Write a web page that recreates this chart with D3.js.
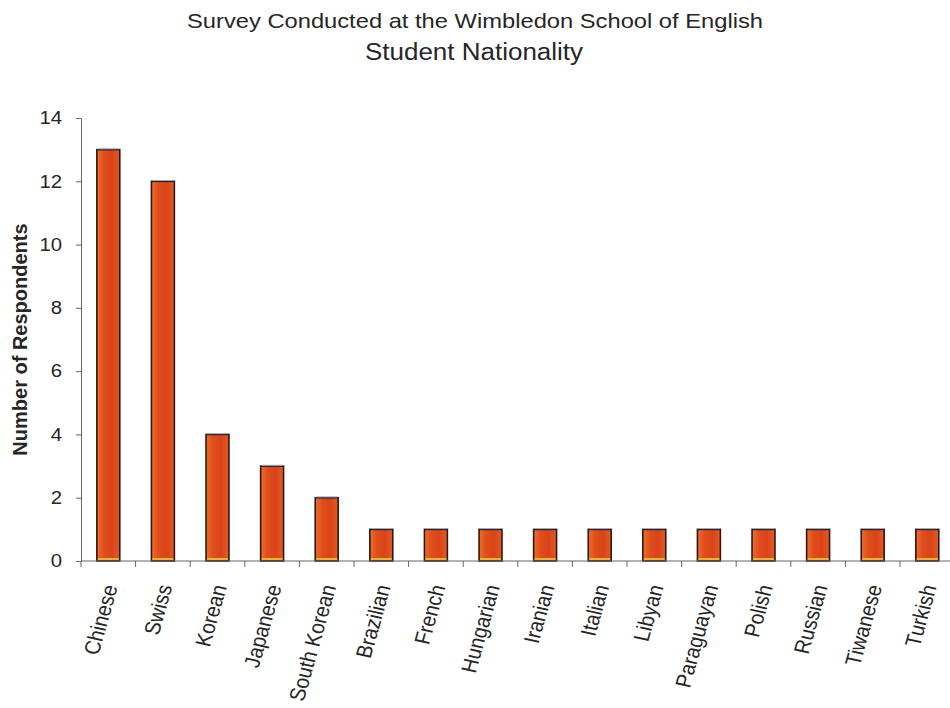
<!DOCTYPE html>
<html>
<head>
<meta charset="utf-8">
<script src="https://cdn.jsdelivr.net/npm/d3@7"></script>
<style>
  body { margin: 0; background: #ffffff; }
  svg { display: block; font-family: "Liberation Sans", Arial, sans-serif; }
</style>
</head>
<body>
<svg id="chart" width="950" height="708"></svg>
<script>
// Survey responses by student nationality
const categories = ["Chinese", "Swiss", "Korean", "Japanese", "South Korean", "Brazilian", "French",
  "Hungarian", "Iranian", "Italian", "Libyan", "Paraguayan", "Polish", "Russian", "Tiwanese", "Turkish"];
const respondents = [13, 12, 4, 3, 2, 1, 1, 1, 1, 1, 1, 1, 1, 1, 1, 1];
const yTicks = [0, 2, 4, 6, 8, 10, 12, 14];

const svg = d3.select("#chart");
const plotLeft = 81, plotRight = 954.6, plotTop = 118, plotBottom = 561;
const SX = 1.13; // type is set slightly wide

const x = d3.scaleBand().domain(categories).range([plotLeft, plotRight]).paddingInner(0.58).paddingOuter(0.29);
const xTickBand = d3.scaleBand().domain(categories).range([plotLeft, plotRight]);
const y = d3.scaleLinear().domain([0, 14]).range([plotBottom, plotTop]);

// Bar fill: orange edges, deeper red core
const defs = svg.append("defs");
const grad = defs.append("linearGradient").attr("id", "barFill").attr("x1", "0").attr("x2", "1").attr("y1", "0").attr("y2", "0");
grad.append("stop").attr("offset", "0%").attr("stop-color", "#ee6e2c");
grad.append("stop").attr("offset", "30%").attr("stop-color", "#e04e1c");
grad.append("stop").attr("offset", "65%").attr("stop-color", "#d9431a");
grad.append("stop").attr("offset", "100%").attr("stop-color", "#e65a22");

// Titles
svg.append("text").attr("transform", `translate(475,28) scale(${SX},1)`).attr("text-anchor", "middle")
  .attr("font-size", 21).attr("fill", "#262626").text("Survey Conducted at the Wimbledon School of English");
svg.append("text").attr("transform", `translate(474,59.5) scale(${SX},1)`).attr("text-anchor", "middle")
  .attr("font-size", 23).attr("fill", "#262626").text("Student Nationality");

// Y axis
const yAxis = svg.append("g").attr("transform", `translate(${plotLeft},0)`)
  .call(d3.axisLeft(y).tickValues(yTicks).tickSize(5).tickPadding(0).tickFormat(d3.format("d")));
yAxis.selectAll("text")
  .attr("x", -19 / SX).attr("transform", `scale(${SX},1)`)
  .attr("font-size", 18).attr("fill", "#262626").attr("font-family", "Liberation Sans, Arial, sans-serif");
yAxis.selectAll("line, path").attr("stroke", "#666");

svg.append("text")
  .attr("transform", `translate(27, ${(plotTop + plotBottom) / 2}) rotate(-90)`)
  .attr("text-anchor", "middle").attr("font-size", 20).attr("font-weight", "bold").attr("fill", "#262626")
  .text("Number of Respondents");

// Bars
const bars = svg.append("g");
bars.selectAll("rect.bar").data(categories).join("rect").attr("class", "bar")
  .attr("x", d => x(d)).attr("width", x.bandwidth())
  .attr("y", (d, i) => y(respondents[i])).attr("height", (d, i) => y(0) - y(respondents[i]))
  .attr("fill", "url(#barFill)").attr("stroke", "#2b1a12").attr("stroke-width", 1.6);
// pale cap line and yellow base strip on each bar
bars.selectAll("line.cap").data(categories).join("line").attr("class", "cap")
  .attr("x1", d => x(d) + 1).attr("x2", d => x(d) + x.bandwidth() - 1)
  .attr("y1", (d, i) => y(respondents[i]) - 0.8).attr("y2", (d, i) => y(respondents[i]) - 0.8)
  .attr("stroke", "#8fb4d8").attr("stroke-width", 1);
bars.selectAll("rect.base").data(categories).join("rect").attr("class", "base")
  .attr("x", d => x(d) + 1).attr("width", x.bandwidth() - 2)
  .attr("y", y(0) - 3).attr("height", 2).attr("fill", "#f2b230");

// X axis line and boundary ticks
const xg = svg.append("g");
xg.append("line").attr("x1", plotLeft).attr("x2", plotRight).attr("y1", plotBottom).attr("y2", plotBottom)
  .attr("stroke", "#666").attr("stroke-width", 1);
xg.selectAll("line.tick").data(categories).join("line").attr("class", "tick")
  .attr("x1", d => xTickBand(d)).attr("x2", d => xTickBand(d))
  .attr("y1", plotBottom).attr("y2", plotBottom + 6).attr("stroke", "#666");

// Rotated category labels
xg.selectAll("text").data(categories).join("text")
  .attr("transform", d => `translate(${xTickBand(d) + xTickBand.bandwidth() / 2 + 2}, ${plotBottom + 24}) scale(${SX},1) rotate(-76)`)
  .attr("text-anchor", "end").attr("dy", "0.35em")
  .attr("font-size", 19.5).attr("fill", "#262626").text(d => d);
</script>
</body>
</html>
